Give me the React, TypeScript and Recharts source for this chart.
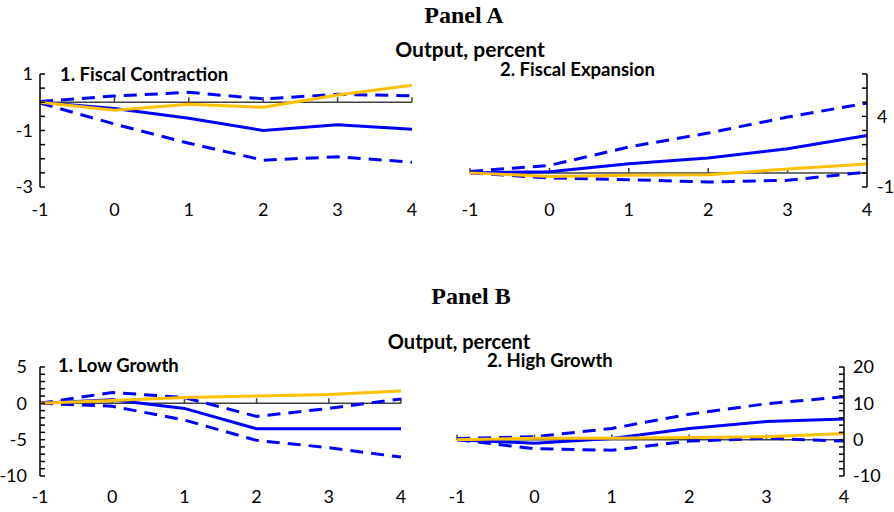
import React from "react";
import { LineChart, Line, XAxis, YAxis, ReferenceLine } from "recharts";

// horizon (years relative to the shock)
const horizons = [-1, 0, 1, 2, 3, 4];

// Panel A.1 - fiscal contraction
const contractionPoint = [0, -0.22, -0.57, -1.0, -0.8, -0.96];
const contractionUpper = [0.03, 0.22, 0.35, 0.12, 0.28, 0.23];
const contractionLower = [-0.03, -0.77, -1.45, -2.05, -1.93, -2.12];
const contractionAlt = [0, -0.28, -0.07, -0.18, 0.26, 0.6];

// Panel A.2 - fiscal expansion
const expansionPoint = [0, 0.08, 0.65, 1.05, 1.71, 2.65];
const expansionUpper = [0.1, 0.53, 1.83, 2.82, 3.95, 4.94];
const expansionLower = [0, -0.36, -0.48, -0.65, -0.53, 0.06];
const expansionAlt = [0, -0.25, -0.17, -0.13, 0.28, 0.63];

// Panel B.1 - low growth
const lowPoint = [0, 0.5, -0.7, -3.5, -3.5, -3.5];
const lowUpper = [0, 1.5, 0.8, -1.8, -0.7, 0.6];
const lowLower = [0, -0.4, -2.3, -5.1, -6.1, -7.4];
const lowAlt = [0, 0.4, 0.8, 1.0, 1.2, 1.7];

// Panel B.2 - high growth
const highPoint = [0, -1.0, 0.3, 3.1, 5.0, 5.7];
const highUpper = [0.3, 0.8, 3.1, 7.0, 9.9, 11.8];
const highLower = [0, -2.5, -2.9, -0.4, 0.4, -0.4];
const highAlt = [0, 0.4, 0.4, 0.6, 0.8, 1.7];

const BLUE = "#0000ff";
const GOLD = "#ffc000";
const FONT = "Lato, 'Liberation Sans', sans-serif";

type PanelProps = {
  left: number;
  top: number;
  width: number;
  height: number;
  margin: { top: number; right: number; bottom: number; left: number };
  point: number[];
  upper: number[];
  lower: number[];
  alt: number[];
  yDomain: [number, number];
  yTicks: number[];
  yLabels: number[];
  side: "left" | "right";
  axisWidth: number;
  yTickMargin: number;
  xTickMargin: number;
  xMarks: number[];
  markLen: number;
};

const Panel = (p: PanelProps) => {
  const data = horizons.map((h, i) => ({
    h,
    point: p.point[i],
    upper: p.upper[i],
    lower: p.lower[i],
    alt: p.alt[i],
  }));
  return (
    <div style={{ position: "absolute", left: p.left, top: p.top }}>
      <LineChart width={p.width} height={p.height} data={data} margin={p.margin}>
        <XAxis
          dataKey="h"
          type="number"
          domain={[-1, 4]}
          ticks={horizons}
          interval={0}
          axisLine={false}
          tickLine={false}
          tickSize={0}
          tickMargin={p.xTickMargin}
          height={30}
          tick={{ fill: "#000", fontSize: 18, fontFamily: FONT }}
        />
        <YAxis
          orientation={p.side}
          domain={p.yDomain}
          ticks={p.yTicks}
          interval={0}
          allowDataOverflow
          width={p.axisWidth}
          tickSize={-5}
          tickMargin={p.yTickMargin}
          tickFormatter={(v: number) => (p.yLabels.includes(v) ? String(v) : "")}
          axisLine={{ stroke: "#000", strokeWidth: 1.5 }}
          tickLine={{ stroke: "#000", strokeWidth: 1.5 }}
          tick={{ fill: "#000", fontSize: 18, fontFamily: FONT }}
        />
        <ReferenceLine y={0} stroke="#404040" strokeWidth={1.5} />
        {p.xMarks.map((m) => (
          <ReferenceLine
            key={m}
            segment={[
              { x: m, y: 0 },
              { x: m, y: p.markLen },
            ]}
            stroke="#404040"
            strokeWidth={1.5}
          />
        ))}
        <Line dataKey="upper" stroke={BLUE} strokeWidth={3} strokeDasharray="13 8" dot={false} isAnimationActive={false} />
        <Line dataKey="lower" stroke={BLUE} strokeWidth={3} strokeDasharray="13 8" dot={false} isAnimationActive={false} />
        <Line dataKey="point" stroke={BLUE} strokeWidth={3} dot={false} isAnimationActive={false} />
        <Line dataKey="alt" stroke={GOLD} strokeWidth={3} dot={false} isAnimationActive={false} />
      </LineChart>
    </div>
  );
};

const range = (a: number, b: number, s: number) => {
  const out: number[] = [];
  for (let v = a; v <= b + 1e-9; v += s) out.push(Math.round(v * 100) / 100);
  return out;
};

export default function App() {
  return (
    <div style={{ position: "absolute", left: 0, top: 0, width: 894, height: 512, background: "#fff" }}>
      <Panel
        left={0}
        top={60}
        width={430}
        height={165}
        margin={{ top: 14, right: 18, bottom: 8, left: 0 }}
        point={contractionPoint}
        upper={contractionUpper}
        lower={contractionLower}
        alt={contractionAlt}
        yDomain={[-3, 1]}
        yTicks={range(-3, 1, 0.5)}
        yLabels={[1, -1, -3]}
        side="left"
        axisWidth={40}
        yTickMargin={12}
        xTickMargin={16}
        xMarks={[0, 1, 2, 3, 4]}
        markLen={0.18}
      />
      <Panel
        left={440}
        top={60}
        width={454}
        height={165}
        margin={{ top: 14, right: 0, bottom: 8, left: 30 }}
        point={expansionPoint}
        upper={expansionUpper}
        lower={expansionLower}
        alt={expansionAlt}
        yDomain={[-1, 7]}
        yTicks={range(-1, 7, 1)}
        yLabels={[4, -1]}
        side="right"
        axisWidth={27}
        yTickMargin={15}
        xTickMargin={16}
        xMarks={[-1, 0, 1, 2, 3]}
        markLen={0.35}
      />
      <Panel
        left={0}
        top={350}
        width={430}
        height={162}
        margin={{ top: 17, right: 29, bottom: 6, left: 0 }}
        point={lowPoint}
        upper={lowUpper}
        lower={lowLower}
        alt={lowAlt}
        yDomain={[-10, 5]}
        yTicks={range(-10, 5, 1)}
        yLabels={[5, 0, -5, -10]}
        side="left"
        axisWidth={40}
        yTickMargin={18}
        xTickMargin={14}
        xMarks={[0, 1, 2, 3, 4]}
        markLen={0.7}
      />
      <Panel
        left={440}
        top={350}
        width={454}
        height={162}
        margin={{ top: 17, right: 0, bottom: 6, left: 17 }}
        point={highPoint}
        upper={highUpper}
        lower={highLower}
        alt={highAlt}
        yDomain={[-10, 20]}
        yTicks={range(-10, 20, 2)}
        yLabels={[20, 10, 0, -10]}
        side="right"
        axisWidth={50}
        yTickMargin={14}
        xTickMargin={14}
        xMarks={[-1, 0, 1, 2, 3]}
        markLen={1.4}
      />
      <svg width={894} height={512} style={{ position: "absolute", left: 0, top: 0, pointerEvents: "none" }}>
        <text x={464} y={23} textAnchor="middle" fontFamily="'Liberation Serif', serif" fontWeight="bold" fontSize={24}>
          Panel A
        </text>
        <text x={470} y={57} textAnchor="middle" fontFamily={FONT} fontWeight="bold" fontSize={21}>
          Output, percent
        </text>
        <text x={60} y={81} fontFamily={FONT} fontWeight="bold" fontSize={18.5}>
          1. Fiscal Contraction
        </text>
        <text x={500} y={76} fontFamily={FONT} fontWeight="bold" fontSize={18.5}>
          2. Fiscal Expansion
        </text>
        <text x={471} y={304} textAnchor="middle" fontFamily="'Liberation Serif', serif" fontWeight="bold" fontSize={24}>
          Panel B
        </text>
        <text x={459} y={349} textAnchor="middle" fontFamily={FONT} fontWeight="bold" fontSize={20}>
          Output, percent
        </text>
        <text x={58} y={372} fontFamily={FONT} fontWeight="bold" fontSize={18.5}>
          1. Low Growth
        </text>
        <text x={487} y={367} fontFamily={FONT} fontWeight="bold" fontSize={18.5}>
          2. High Growth
        </text>
      </svg>
    </div>
  );
}
